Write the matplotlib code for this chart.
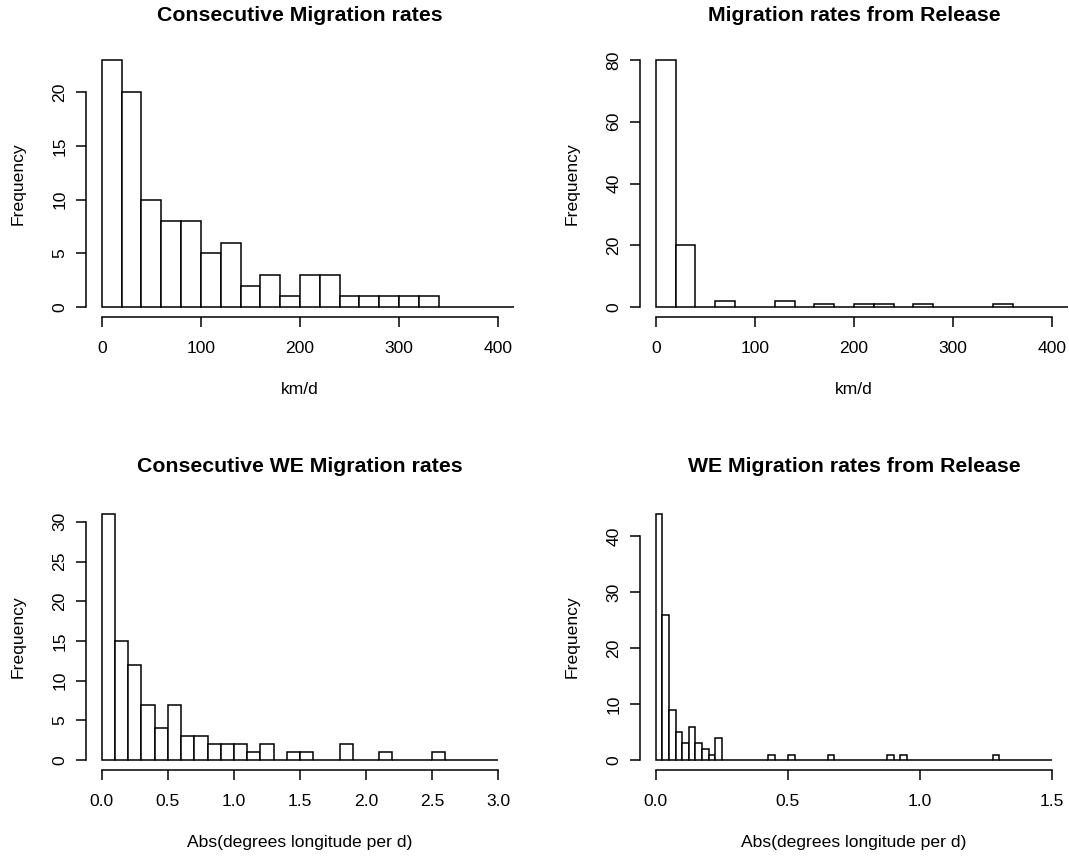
import numpy as np
import matplotlib
matplotlib.use("Agg")
import matplotlib.pyplot as plt

plt.rcParams['font.family'] = ['Liberation Sans', 'DejaVu Sans']

# ---- data ----
tl_edges = np.arange(0, 421, 20)
tl_counts = [23, 20, 10, 8, 8, 5, 6, 2, 3, 1, 3, 3, 1, 1, 1, 1, 1, 0, 0, 0, 0]

tr_edges = np.arange(0, 421, 20)
tr_counts = [80, 20, 0, 2, 0, 0, 2, 0, 1, 0, 1, 1, 0, 1, 0, 0, 0, 1, 0, 0, 0]

bl_edges = np.round(np.arange(0, 3.0001, 0.1), 3)
bl_counts = [31, 15, 12, 7, 4, 7, 3, 3, 2, 2, 2, 1, 2, 0, 1, 1, 0, 0, 2, 0,
             0, 1, 0, 0, 0, 1, 0, 0, 0, 0]

br_edges = np.round(np.arange(0, 1.50001, 0.025), 4)
br_counts = [44, 26, 9, 5, 3, 6, 3, 2, 1, 4,
             0, 0, 0, 0, 0, 0, 0, 1, 0, 0,
             1, 0, 0, 0, 0, 0, 1, 0, 0, 0,
             0, 0, 0, 0, 0, 1, 0, 1, 0, 0,
             0, 0, 0, 0, 0, 0, 0, 0, 0, 0,
             0, 1, 0, 0, 0, 0, 0, 0, 0, 0]

titles = ["Consecutive Migration rates", "Migration rates from Release",
          "Consecutive WE Migration rates", "WE Migration rates from Release"]
xlabels = ["km/d", "km/d", "Abs(degrees longitude per d)", "Abs(degrees longitude per d)"]
xticks_list = [[0, 100, 200, 300, 400], [0, 100, 200, 300, 400],
               [0.0, 0.5, 1.0, 1.5, 2.0, 2.5, 3.0], [0.0, 0.5, 1.0, 1.5]]
xticklabels_list = [["0", "100", "200", "300", "400"], ["0", "100", "200", "300", "400"],
                    ["0.0", "0.5", "1.0", "1.5", "2.0", "2.5", "3.0"],
                    ["0.0", "0.5", "1.0", "1.5"]]
xlims = [(0, 400), (0, 400), (0, 3.0), (0, 1.5)]
yticks_list = [[0, 5, 10, 15, 20], [0, 20, 40, 60, 80],
               [0, 5, 10, 15, 20, 25, 30], [0, 10, 20, 30, 40]]

W, H = 1069, 860
fig = plt.figure(figsize=(W / 100, H / 100), dpi=100)

# plot regions in pixels (left, top, right, bottom)
regions = [(86, 50, 514, 317), (640, 50, 1068, 317),
           (86, 504, 514, 770), (640, 504, 1068, 770)]

data = [(tl_edges, tl_counts), (tr_edges, tr_counts),
        (bl_edges, bl_counts), (br_edges, br_counts)]

FS = 12.6
TFS = 15.3

for i in range(4):
    l, t, r, b = regions[i]
    ax = fig.add_axes([l / W, 1 - b / H, (r - l) / W, (b - t) / H])
    edges, counts = data[i]
    edges = np.asarray(edges, dtype=float)
    counts = np.asarray(counts, dtype=float)
    ax.bar(edges[:-1], counts, width=np.diff(edges), align='edge',
           facecolor='white', edgecolor='black', linewidth=1.1)
    x0, x1 = xlims[i]
    dx = 0.04 * (x1 - x0)
    ax.set_xlim(x0 - dx, x1 + dx)
    ymax = counts.max()
    ax.set_ylim(-0.04 * ymax, 1.04 * ymax)

    for s in ['top', 'right']:
        ax.spines[s].set_visible(False)
    for s in ['left', 'bottom']:
        ax.spines[s].set_linewidth(1.1)
    xt = xticks_list[i]
    yt = yticks_list[i]
    ax.spines['bottom'].set_bounds(xt[0], xt[-1])
    ax.spines['left'].set_bounds(yt[0], yt[-1])
    ax.set_xticks(xt)
    ax.set_xticklabels(xticklabels_list[i])
    ax.set_yticks(yt)
    ax.set_yticklabels([str(v) for v in yt], rotation=90, va='center')
    ax.tick_params(axis='both', direction='out', length=7.5, width=1.1,
                   labelsize=FS)
    ax.tick_params(axis='x', pad=10)
    ax.tick_params(axis='y', pad=6)

    ax.set_title(titles[i], fontsize=TFS, fontweight='bold',
                 pad=21 if i < 2 else 23)
    ax.set_xlabel(xlabels[i], fontsize=FS, va='center')
    ax.xaxis.set_label_coords(0.5, -(73 / (b - t)))
    ax.set_ylabel("Frequency", fontsize=FS, va='center')
    ax.yaxis.set_label_coords(-(l - (18 if i % 2 == 0 else 572)) / (r - l), 0.5)
    ax.patch.set_visible(False)

fig.savefig("out.png", dpi=100, facecolor='white')
